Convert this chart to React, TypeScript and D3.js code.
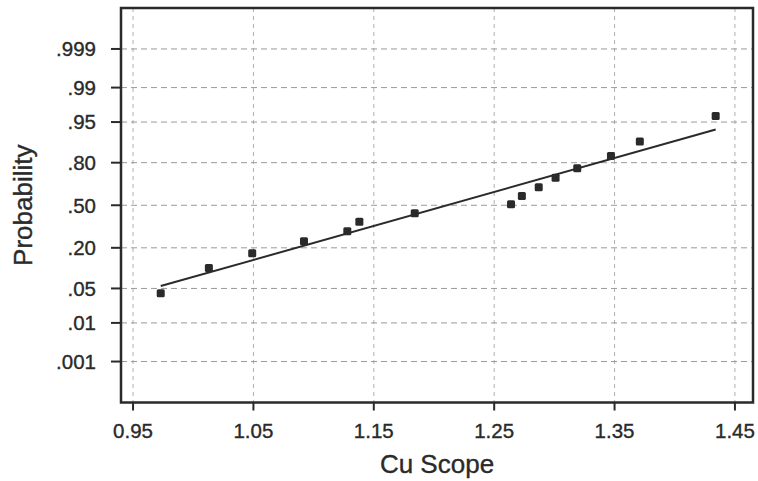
import React from 'react';
import * as d3 from 'd3';

const xTicks = [0.95, 1.05, 1.15, 1.25, 1.35, 1.45];
const xTickLabels = ['0.95', '1.05', '1.15', '1.25', '1.35', '1.45'];
const probTicks = [0.999, 0.99, 0.95, 0.8, 0.5, 0.2, 0.05, 0.01, 0.001];
const probTickLabels = ['.999', '.99', '.95', '.80', '.50', '.20', '.05', '.01', '.001'];
const cuScope = [0.973, 1.013, 1.049, 1.092, 1.128, 1.138, 1.184, 1.264, 1.273, 1.287, 1.301, 1.319, 1.347, 1.371, 1.434];
const probability = [0.041, 0.107, 0.171, 0.238, 0.303, 0.373, 0.437, 0.508, 0.573, 0.639, 0.707, 0.768, 0.835, 0.896, 0.961];
const fitLineX = [0.973, 1.434];
const fitLineProb = [0.055, 0.933];

// inverse standard normal CDF (Acklam)
function probit(p: number): number {
  const a = [-3.969683028665376e1, 2.209460984245205e2, -2.759285104469687e2, 1.38357751867269e2, -3.066479806614716e1, 2.506628277459239];
  const b = [-5.447609879822406e1, 1.615858368580409e2, -1.556989798598866e2, 6.680131188771972e1, -1.328068155288572e1];
  const c = [-7.784894002430293e-3, -3.223964580411365e-1, -2.400758277161838, -2.549732539343734, 4.374664141464968, 2.938163982698783];
  const d = [7.784695709041462e-3, 3.224671290700398e-1, 2.445134137142996, 3.754408661907416];
  const pl = 0.02425;
  if (p < pl) {
    const q = Math.sqrt(-2 * Math.log(p));
    return (((((c[0] * q + c[1]) * q + c[2]) * q + c[3]) * q + c[4]) * q + c[5]) / ((((d[0] * q + d[1]) * q + d[2]) * q + d[3]) * q + 1);
  }
  if (p > 1 - pl) {
    const q = Math.sqrt(-2 * Math.log(1 - p));
    return -(((((c[0] * q + c[1]) * q + c[2]) * q + c[3]) * q + c[4]) * q + c[5]) / ((((d[0] * q + d[1]) * q + d[2]) * q + d[3]) * q + 1);
  }
  const q = p - 0.5;
  const r = q * q;
  return (((((a[0] * r + a[1]) * r + a[2]) * r + a[3]) * r + a[4]) * r + a[5]) * q / (((((b[0] * r + b[1]) * r + b[2]) * r + b[3]) * r + b[4]) * r + 1);
}

const W = 758, H = 481;
const L = 121, R = 753, T = 8, B = 402.5;
const font = "'Liberation Sans', Arial, sans-serif";
const ink = '#2a2a2a';

export default function App() {
  const x = d3.scaleLinear().domain([0.94, 1.465]).range([L, R]);
  const z = d3.scaleLinear().domain([-3.9, 3.9]).range([B, T]);
  const y = (p: number) => z(probit(p));
  const line = d3.line<number>().x((v) => x(v)).y((_, i) => y(fitLineProb[i]));
  const txt = { fontFamily: font, fill: ink, stroke: ink, strokeWidth: 0.35 };

  return (
    <svg width={W} height={H} style={{ position: 'absolute', left: 0, top: 0, background: '#fff' }}>
      <rect x={0} y={0} width={W} height={H} fill="#fff" />
      {/* grid */}
      {xTicks.map((t) => (
        <line key={'gx' + t} x1={x(t)} x2={x(t)} y1={T} y2={B} stroke="#b0b0b0" strokeWidth={1} strokeDasharray="4,4" />
      ))}
      {probTicks.map((p) => (
        <line key={'gy' + p} x1={L} x2={R} y1={y(p)} y2={y(p)} stroke="#999" strokeWidth={1} strokeDasharray="6,4" />
      ))}
      {/* frame */}
      <rect x={L} y={T} width={R - L} height={B - T} fill="none" stroke={ink} strokeWidth={2.5} />
      {/* ticks */}
      {probTicks.map((p, i) => (
        <g key={'ty' + p}>
          <line x1={L - 10} x2={L} y1={y(p)} y2={y(p)} stroke={ink} strokeWidth={2} />
          <text x={96} y={y(p)} dy="0.36em" textAnchor="end" fontSize={20.5} {...txt}>
            {probTickLabels[i]}
          </text>
        </g>
      ))}
      {xTicks.map((t, i) => (
        <g key={'tx' + t}>
          <line x1={x(t)} x2={x(t)} y1={B} y2={B + 8} stroke={ink} strokeWidth={2} />
          <text x={x(t)} y={437.5} textAnchor="middle" fontSize={20.5} {...txt}>
            {xTickLabels[i]}
          </text>
        </g>
      ))}
      {/* fit line */}
      <path d={line(fitLineX) || ''} fill="none" stroke={ink} strokeWidth={2} />
      {/* points */}
      {cuScope.map((v, i) => (
        <rect key={'p' + i} x={x(v) - 4} y={y(probability[i]) - 4} width={8} height={8} rx={1.5} fill={ink} />
      ))}
      {/* titles */}
      <text x={(L + R) / 2} y={473} textAnchor="middle" fontSize={26} {...txt}>
        Cu Scope
      </text>
      <text transform={`translate(32, ${(T + B) / 2}) rotate(-90)`} textAnchor="middle" fontSize={26} {...txt}>
        Probability
      </text>
    </svg>
  );
}
